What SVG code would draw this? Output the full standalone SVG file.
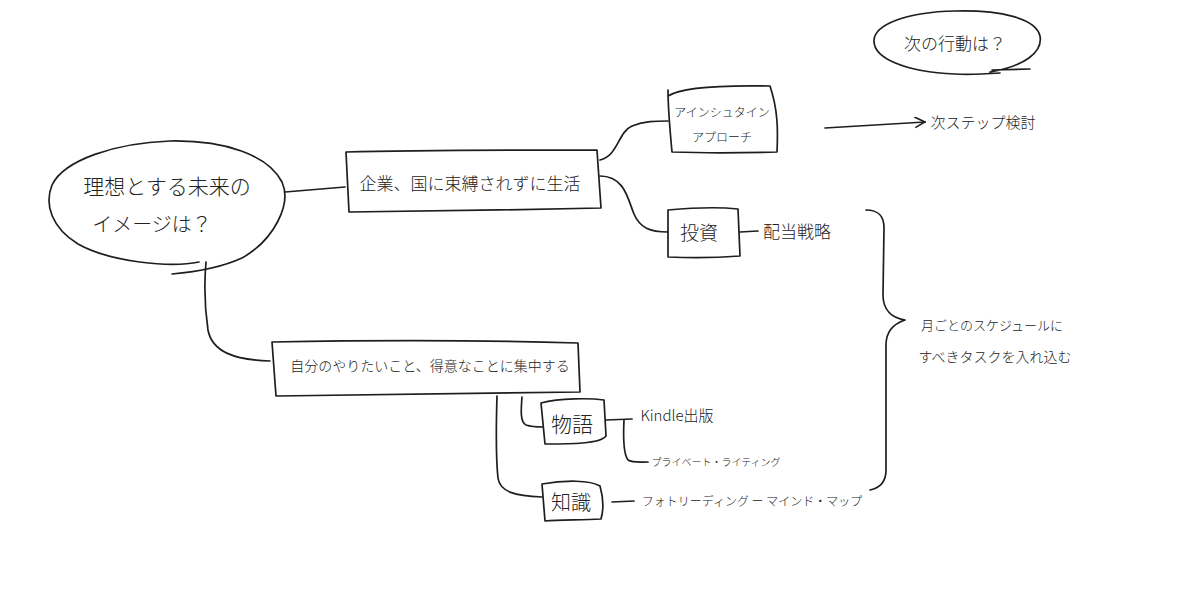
<svg xmlns="http://www.w3.org/2000/svg" width="1200" height="608" viewBox="0 0 1200 608">
<style>
.s{fill:none;stroke:#1e1e1e;stroke-width:1.7;stroke-linecap:round;stroke-linejoin:round}
.t{font-family:"Noto Sans CJK JP","Noto Sans",sans-serif;fill:#222;font-weight:300}
</style>
<defs>
<marker id="ah" viewBox="0 0 12 12" refX="11" refY="6" markerWidth="12" markerHeight="12" markerUnits="userSpaceOnUse" orient="auto">
<path d="M0,0 L11,6 L1,11" fill="none" stroke="#1e1e1e" stroke-width="1.6"/>
</marker>
</defs>
<rect width="1200" height="608" fill="#ffffff"/>

<g id="connectors">
<path class="s" d="M285,192 L345,187"/>
<path class="s" d="M600,160 C618,156 618,132 632,126 C645,121 655,121 668,121"/>
<path class="s" d="M600,176 C625,176 628,200 634,214 C640,228 650,232 668,232"/>
<path class="s" d="M740,232 L758,231"/>
<path class="s" d="M825,128 L925,122" marker-end="url(#ah)"/>
<path class="s" d="M206,262 C204,285 205,310 208,330 C212,352 235,360 270,361"/>
<path class="s" d="M497,396 C496,430 496,460 498,478 C500,492 515,496 542,497"/>
<path class="s" d="M522,397 C521,410 520,422 526,425 C532,427 536,427 543,427"/>
<path class="s" d="M606,420 L632,419"/>
<path class="s" d="M624,420 C623,440 624,455 628,460 C633,463 640,462 648,462"/>
<path class="s" d="M612,502 L634,501"/>
<path class="s" d="M866,210 C878,210 884,215 884,228 L883,295 C883,310 892,318 905,320 C893,324 886,332 886,345 L886,470 C886,482 880,488 870,490"/>
</g>

<g id="n-ideal">
<path class="s" d="M199,262 C170,268 110,262 78,244 C52,228 44,205 52,185 C64,160 115,143 170,141 C225,140 268,155 282,182 C292,204 274,240 242,258 C220,268 195,272 172,274"/>
<text class="t" x="167" y="194" font-size="21" text-anchor="middle">理想とする未来の</text>
<text class="t" x="152" y="232" font-size="20" text-anchor="middle">イメージは？</text>
</g>

<g id="n-life">
<path class="s" d="M346,152 C420,150 520,150 597,150 L601,208 C520,210 420,211 349,212 Z"/>
<text class="t" x="470" y="190" font-size="17" text-anchor="middle">企業、国に束縛されずに生活</text>
</g>

<g id="n-einstein">
<path class="s" d="M668,96 C680,88 720,85 770,86 C778,110 778,130 777,152 C740,153 700,153 672,152 C670,130 668,110 668,90"/>
<text class="t" x="722" y="117" font-size="12" text-anchor="middle">アインシュタイン</text>
<text class="t" x="722" y="142" font-size="12" text-anchor="middle">アプローチ</text>
</g>

<g id="n-next-step">
<text class="t" x="983" y="128" font-size="15" text-anchor="middle">次ステップ検討</text>
</g>

<g id="n-next-action">
<path class="s" d="M990,72 C1025,66 1043,52 1040,36 C1036,18 1000,10 955,11 C905,12 875,25 874,40 C873,58 905,72 955,74 C970,75 985,74 1000,73 M992,70 L1030,69"/>
<text class="t" x="955" y="50" font-size="17" text-anchor="middle">次の行動は？</text>
</g>

<g id="n-invest">
<path class="s" d="M668,210 C690,208 720,207 738,209 L740,256 C715,258 690,258 668,257 Z"/>
<text class="t" x="699" y="240" font-size="19" text-anchor="middle">投資</text>
</g>

<g id="n-dividend">
<text class="t" x="797" y="238" font-size="17" text-anchor="middle">配当戦略</text>
</g>

<g id="n-schedule">
<text class="t" x="992" y="330" font-size="13" text-anchor="middle">月ごとのスケジュールに</text>
<text class="t" x="995" y="362" font-size="14" text-anchor="middle">すべきタスクを入れ込む</text>
</g>

<g id="n-focus">
<path class="s" d="M272,342 C380,340 480,340 578,343 L580,392 C480,393 380,394 276,396 Z"/>
<text class="t" x="430" y="371" font-size="14" text-anchor="middle">自分のやりたいこと、得意なことに集中する</text>
</g>

<g id="n-story">
<path class="s" d="M541,403 C560,398 590,398 604,400 L606,436 C600,444 570,444 545,444 L541,403"/>
<text class="t" x="572" y="432" font-size="21" text-anchor="middle">物語</text>
</g>

<g id="n-kindle">
<text class="t" x="677" y="421" font-size="15" text-anchor="middle">Kindle出版</text>
</g>

<g id="n-private">
<text class="t" x="716" y="466" font-size="10" text-anchor="middle">プライベート・ライティング</text>
</g>

<g id="n-knowledge">
<path class="s" d="M542,484 C565,480 590,480 600,486 C604,500 603,512 601,519 C580,520 560,520 545,521 Z"/>
<text class="t" x="571" y="510" font-size="20" text-anchor="middle">知識</text>
</g>

<g id="n-photo">
<text class="t" x="752" y="506" font-size="12" text-anchor="middle">フォトリーディング ー マインド・マップ</text>
</g>
</svg>
